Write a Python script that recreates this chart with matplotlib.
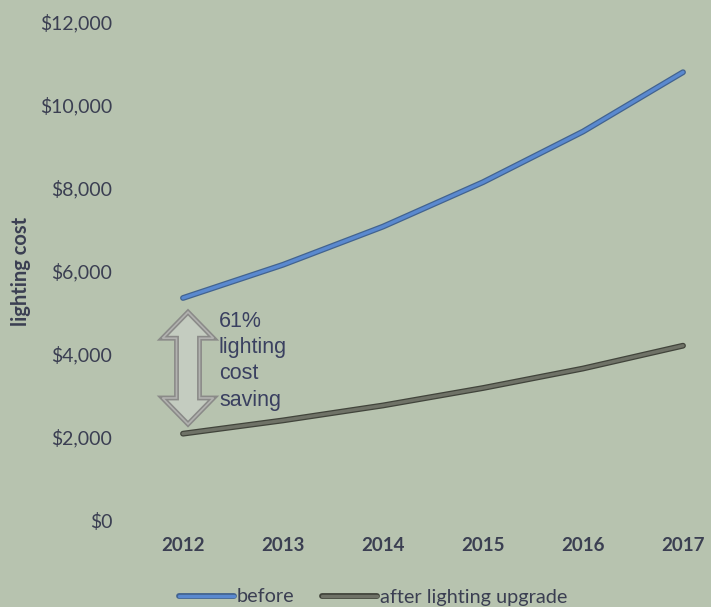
import matplotlib
matplotlib.use("Agg")
import matplotlib.pyplot as plt
import matplotlib.patheffects as pe
from matplotlib.patches import Polygon

years = [2012, 2013, 2014, 2015, 2016, 2017]
before = [5350, 6150, 7070, 8140, 9360, 10790]
after = [2080, 2400, 2760, 3180, 3650, 4200]
series_labels = ["before", "after lighting upgrade"]
ytick_values = [0, 2000, 4000, 6000, 8000, 10000, 12000]
ytick_labels = ["$0", "$2,000", "$4,000", "$6,000", "$8,000", "$10,000", "$12,000"]
y_title = "lighting cost"
note_text = "61%\nlighting\ncost\nsaving"

BG = "#b7c3af"
TXT = "#3b3f52"

W, H = 711, 607
fig = plt.figure(figsize=(W / 100, H / 100), dpi=100, facecolor=BG)
left_px, right_px = 122, 711
top_px, bot_px = 22, 520
ax = fig.add_axes([left_px / W, (H - bot_px) / H, (right_px - left_px) / W, (bot_px - top_px) / H])
ax.set_facecolor(BG)
xmin = years[0] - (183 - left_px) / 100
ax.set_xlim(xmin, xmin + (right_px - left_px) / 100)
ax.set_ylim(ytick_values[0], ytick_values[-1])
for s in ax.spines.values():
    s.set_visible(False)

ax.set_yticks(ytick_values)
ax.set_yticklabels(ytick_labels, family="Lato", fontsize=14, color=TXT)
ax.set_xticks(years)
ax.set_xticklabels([str(y) for y in years], family="Lato", fontsize=13.5, color=TXT, fontweight="bold")
ax.tick_params(axis="y", length=0, pad=7)
ax.tick_params(axis="x", length=0, pad=12)

l1, = ax.plot(years, before, color="#5a89cf", lw=2.4, solid_capstyle="round",
              path_effects=[pe.Stroke(linewidth=4.2, foreground="#42638f", capstyle="round"), pe.Normal()])
l2, = ax.plot(years, after, color="#6f7267", lw=2.4, solid_capstyle="round",
              path_effects=[pe.Stroke(linewidth=4.2, foreground="#41443b", capstyle="round"), pe.Normal()])

# double-headed hollow arrow between the two series at the first year
cx = years[0] + 0.05
top = before[0] - 340
bot = after[0] + 230
hw, sw, hl = 0.255, 0.115, 630
verts = [(cx, top), (cx + hw, top - hl), (cx + sw, top - hl), (cx + sw, bot + hl),
         (cx + hw, bot + hl), (cx, bot), (cx - hw, bot + hl), (cx - sw, bot + hl),
         (cx - sw, top - hl), (cx - hw, top - hl)]
ax.add_patch(Polygon(verts, closed=True, facecolor="#c4ccc0", edgecolor="#8a8a88", lw=3.5, joinstyle="miter"))
ax.add_patch(Polygon(verts, closed=True, facecolor="none", edgecolor="#b2b2b0", lw=1.2, joinstyle="miter"))

ax.text(years[0] + 0.36, top + 30, note_text, family="Liberation Sans", fontsize=15.5, color="#3a4060",
        va="top", ha="left", linespacing=1.33)

fig.text(21 / W, 1 - 271 / H, y_title, rotation=90, family="Lato", fontweight="bold",
         fontsize=14.5, color=TXT, ha="center", va="center")

leg = fig.legend([l1, l2], series_labels, loc="center", bbox_to_anchor=(373 / W, 10 / H), ncol=2,
                 frameon=False, prop={"family": "Lato", "size": 14.3}, handlelength=2.75,
                 handletextpad=0.15, columnspacing=1.4, borderpad=0)
for t in leg.get_texts():
    t.set_color(TXT)

fig.savefig("out.png", dpi=100, facecolor=BG)
